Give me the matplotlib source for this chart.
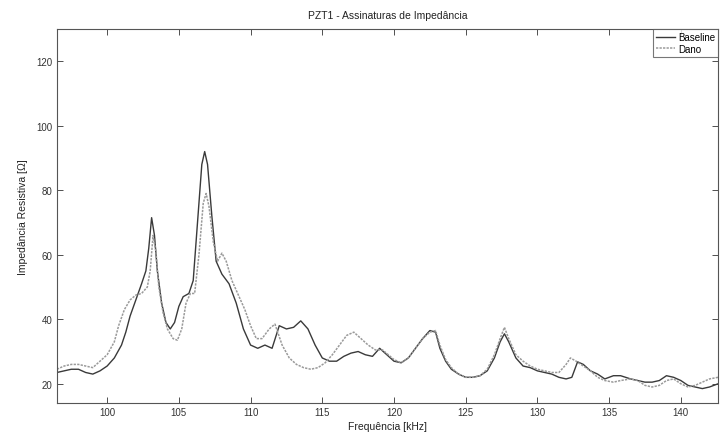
import matplotlib
matplotlib.use("Agg")
import matplotlib.pyplot as plt

plt.rcParams['font.family'] = ['Liberation Sans', 'DejaVu Sans']

base_f = [96.5, 97.0, 97.5, 98.0, 98.5, 99.0, 99.5, 100.0, 100.5, 101.0, 101.3, 101.6, 102.0,
          102.4, 102.7, 102.9, 103.1, 103.3, 103.5, 103.8, 104.1, 104.4, 104.7, 105.0, 105.3,
          105.7, 106.0, 106.3, 106.6, 106.8, 107.0, 107.3, 107.6, 108.0, 108.5, 109.0, 109.5,
          110.0, 110.5, 111.0, 111.5, 112.0, 112.5, 113.0, 113.5, 114.0, 114.5, 115.0, 115.5,
          116.0, 116.5, 117.0, 117.5, 118.0, 118.5, 119.0, 119.5, 120.0, 120.5, 121.0, 121.5,
          122.0, 122.5, 122.9, 123.2, 123.6, 124.0, 124.5, 125.0, 125.5, 126.0, 126.5, 127.0,
          127.4, 127.7, 128.0, 128.5, 129.0, 129.5, 130.0, 130.5, 131.0, 131.5, 132.0, 132.4,
          132.8, 133.2, 133.7, 134.2, 134.7, 135.3, 135.8, 136.5, 137.0, 137.5, 138.0, 138.5,
          139.0, 139.5, 140.0, 140.5, 141.0, 141.5, 142.0, 142.6]
base_z = [23.5, 24, 24.5, 24.5, 23.5, 23, 24, 25.5, 28, 32, 36, 41, 46,
          51, 55, 62, 71.5, 66, 55, 45, 39, 37, 39, 44, 47,
          48, 52, 70, 88, 92, 88, 72, 58, 54, 51, 45, 37,
          32, 31, 32, 31, 38, 37, 37.5, 39.5, 37, 32, 28, 27,
          27, 28.5, 29.5, 30, 29, 28.5, 31, 29, 27, 26.5, 28, 31,
          34, 36.5, 36, 31, 27, 24.5, 23, 22, 22, 22.5, 24, 28,
          33, 35.5, 33, 28, 25.5, 25, 24, 23.5, 23, 22, 21.5, 22,
          26.8, 26, 24, 23, 21.5, 22.5, 22.5, 21.5, 21, 20.5, 20.5, 21,
          22.5, 22, 21, 19.5, 19, 18.5, 19, 20]

dano_f = [96.5, 97.0, 97.5, 98.0, 98.5, 99.0, 99.5, 100.0, 100.5, 100.8, 101.2, 101.6, 102.0,
          102.4, 102.8, 103.0, 103.2, 103.4, 103.6, 103.9, 104.2, 104.6, 104.9, 105.2, 105.5,
          105.8, 106.1, 106.4, 106.7, 106.9, 107.1, 107.4, 107.7, 108.0, 108.3, 108.7, 109.2,
          109.6, 110.0, 110.4, 110.8, 111.3, 111.7, 112.2, 112.7, 113.2, 113.7, 114.2, 114.7,
          115.2, 115.7, 116.2, 116.7, 117.2, 117.7, 118.2, 118.7, 119.2, 119.6, 120.0, 120.5,
          121.0, 121.5, 122.0, 122.5, 122.9, 123.2, 123.6, 124.0, 124.5, 125.0, 125.5, 126.0,
          126.5, 127.0, 127.4, 127.7, 128.0, 128.5, 129.0, 129.5, 130.0, 130.5, 131.0, 131.5,
          132.0, 132.3, 132.7, 133.2, 133.7, 134.2, 134.7, 135.3, 135.8, 136.5, 137.0, 137.5,
          138.0, 138.5, 139.0, 139.5, 140.0, 140.5, 141.0, 141.5, 142.0, 142.6]
dano_z = [24.5, 25.5, 26, 26, 25.5, 25, 27, 29, 33, 38, 43, 46, 47.5,
          48, 50, 55, 66, 61, 50, 42, 37, 34, 33.5, 37, 45,
          48, 48, 60, 76, 79, 75, 64, 58, 60.5, 58, 52, 47,
          43, 38, 34, 34, 37, 38.5, 32, 28, 26, 25, 24.5, 25,
          26.5, 29, 32, 35, 36, 34, 32, 30.5, 30.5, 29, 27.5, 26.5,
          28, 31, 34, 36, 36.5, 32, 27.5, 25, 23, 22, 22, 22.5,
          24.5, 29, 34, 37.5, 34, 29, 27, 25.5, 24.5, 24, 23.5, 23.5,
          26, 28, 27, 25.5, 24, 22, 21, 20.5, 21, 21.5, 21, 19.5,
          19, 19.5, 21, 21.5, 20, 19, 19.5, 20.5, 21.5, 22]

xticks = [100, 105, 110, 115, 120, 125, 130, 135, 140]
yticks = [20, 40, 60, 80, 100, 120]

fig = plt.figure(figsize=(7.21, 4.35), dpi=100)
ax = fig.add_axes([0.079, 0.071, 0.917, 0.860])
ax.plot(base_f, base_z, color='#3a3a3a', lw=1.0, label='Baseline')
ax.plot(dano_f, dano_z, color='#9a9a9a', lw=1.1, ls=(0, (1.5, 0.8)), label='Dano')
ax.set_xlim(96.5, 142.6)
ax.set_ylim(14, 130)
ax.set_xticks(xticks)
ax.set_yticks(yticks)
ax.tick_params(direction='in', top=True, right=True, labelsize=7, length=4,
               width=0.6, colors='#333333', pad=3)
for s in ax.spines.values():
    s.set_linewidth(0.8)
    s.set_color('#555555')
ax.set_title('PZT1 - Assinaturas de Impedância', fontsize=7.5, color='#222222', pad=8)
ax.set_xlabel('Frequência [kHz]', fontsize=7.5, color='#222222', labelpad=3)
ax.set_ylabel('Impedância Resistiva [Ω]', fontsize=7.5, color='#222222', labelpad=6)
leg = ax.legend(loc='upper right', fontsize=7, frameon=True, fancybox=False,
                borderaxespad=0.0, handlelength=2.0, borderpad=0.3, labelspacing=0.2,
                handletextpad=0.3)
leg.get_frame().set_edgecolor('#555555')
leg.get_frame().set_linewidth(0.8)
fig.savefig('out.png', dpi=100)
